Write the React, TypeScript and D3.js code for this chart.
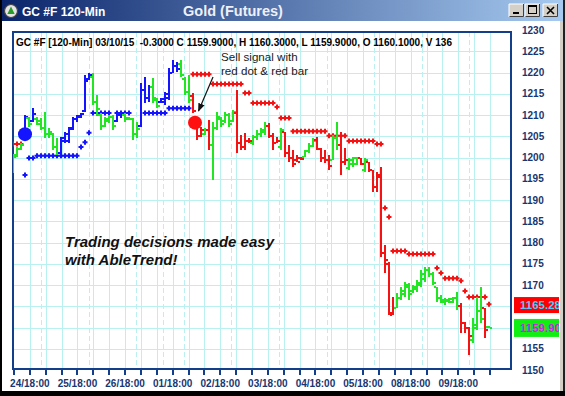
import React from "react";
import * as d3 from "d3";

// ---- data ----
const trend = [
  "GGGBGBGGGG", "GGBBBBBBBB", "GGGGGGBBGG", "GGBBBGGBBB",
  "BBGGGRRRGR", "GGGGGGRRRR", "GGGGRRRGRR", "RRRGGGRRRR",
  "GGRRGGGRGR", "RRRRRRGGGG", "GGGGGGGGGG", "GGRRRGGGRG",
].join("").split("");

const high = [
  1200.8, 1202.5, 1203.4, 1210.0, 1209.5, 1211.6, 1209.5, 1209.3, 1210.7, 1206.9,
  1205.8, 1204.6, 1204.8, 1206.0, 1207.2, 1209.5, 1210.0, 1210.5, 1219.4, 1219.9,
  1219.9, 1214.7, 1210.5, 1209.5, 1210.0, 1210.0, 1210.7, 1210.7, 1210.5, 1209.5,
  1209.3, 1208.4, 1217.5, 1218.9, 1217.1, 1218.7, 1214.0, 1214.0, 1215.4, 1221.1,
  1222.9, 1222.5, 1222.9, 1218.9, 1219.4, 1215.2, 1209.5, 1207.2, 1206.9, 1208.8,
  1208.4, 1210.7, 1209.5, 1210.7, 1210.5, 1211.2, 1215.9, 1205.3, 1205.8, 1204.6,
  1205.3, 1206.5, 1206.9, 1208.4, 1208.1, 1205.8, 1204.8, 1206.9, 1206.0, 1202.9,
  1201.8, 1200.6, 1200.1, 1201.8, 1203.4, 1204.6, 1204.8, 1202.2, 1201.8, 1200.6,
  1205.3, 1208.4, 1206.0, 1202.2, 1199.9, 1200.1, 1200.1, 1199.9, 1199.9, 1198.9,
  1197.1, 1196.6, 1197.8, 1179.4, 1175.4, 1167.2, 1168.1, 1169.5, 1170.7, 1170.5,
  1170.0, 1171.2, 1173.5, 1174.2, 1174.2, 1173.1, 1169.5, 1167.6, 1166.9, 1166.9,
  1167.2, 1168.4, 1165.8, 1161.3, 1160.1, 1162.2, 1167.2, 1169.5, 1164.6, 1160.3,
];

const low = [
  1196.4, 1200.1, 1201.8, 1204.8, 1207.2, 1208.4, 1207.6, 1206.5, 1204.6, 1204.6,
  1201.8, 1200.6, 1200.1, 1203.4, 1203.4, 1206.5, 1208.4, 1209.3, 1210.7, 1218.2,
  1212.4, 1210.0, 1206.5, 1207.2, 1208.1, 1206.5, 1208.4, 1209.3, 1208.4, 1208.8,
  1204.1, 1204.6, 1207.2, 1212.8, 1213.1, 1212.8, 1211.6, 1212.8, 1212.4, 1213.5,
  1219.9, 1220.1, 1218.9, 1214.7, 1212.8, 1210.5, 1204.1, 1204.8, 1205.3, 1201.8,
  1194.7, 1206.5, 1207.2, 1208.1, 1207.2, 1208.4, 1201.1, 1201.8, 1201.8, 1203.4,
  1202.9, 1204.1, 1204.8, 1205.3, 1204.6, 1201.8, 1203.4, 1201.8, 1200.1, 1198.9,
  1197.8, 1198.9, 1199.4, 1200.1, 1201.1, 1202.5, 1201.8, 1198.9, 1198.7, 1197.1,
  1199.4, 1201.8, 1195.9, 1198.2, 1197.1, 1197.8, 1198.2, 1198.2, 1196.6, 1196.6,
  1191.9, 1191.9, 1176.6, 1172.8, 1162.9, 1162.9, 1164.6, 1166.5, 1167.2, 1166.5,
  1168.1, 1168.4, 1169.5, 1170.7, 1171.9, 1170.0, 1166.0, 1165.8, 1165.3, 1165.8,
  1165.8, 1164.1, 1158.7, 1158.7, 1153.5, 1156.4, 1159.4, 1161.1, 1157.5, 1159.9,
];

const open = [
  1197.5, 1200.5, 1202.0, 1205.0, 1209.3, 1208.6, 1209.0, 1208.5, 1207.0, 1205.5,
  1205.5, 1202.5, 1201.0, 1204.0, 1204.0, 1207.0, 1209.0, 1209.6, 1211.0, 1218.5,
  1219.0, 1213.0, 1210.0, 1207.5, 1208.5, 1209.5, 1208.6, 1210.0, 1210.0, 1209.2,
  1209.0, 1205.5, 1207.5, 1216.0, 1214.0, 1216.5, 1213.5, 1213.0, 1213.0, 1214.0,
  1220.0, 1221.5, 1222.0, 1218.5, 1215.5, 1214.5, 1209.0, 1205.0, 1205.5, 1206.5,
  1203.0, 1207.0, 1209.0, 1208.5, 1210.0, 1208.5, 1210.5, 1203.5, 1202.5, 1204.0,
  1203.5, 1204.8, 1205.5, 1206.0, 1207.5, 1205.0, 1203.5, 1202.5, 1206.0, 1201.0,
  1200.0, 1199.5, 1199.8, 1200.2, 1201.5, 1202.8, 1204.2, 1202.0, 1200.0, 1199.5,
  1199.5, 1204.5, 1203.0, 1199.0, 1197.5, 1198.5, 1198.5, 1199.8, 1197.0, 1199.0,
  1197.0, 1193.0, 1196.0, 1177.5, 1175.0, 1163.0, 1164.5, 1167.0, 1168.0, 1169.5,
  1168.5, 1169.0, 1170.0, 1171.5, 1173.5, 1172.5, 1169.5, 1167.0, 1166.0, 1166.2,
  1166.0, 1167.0, 1165.0, 1161.0, 1160.0, 1157.0, 1160.0, 1164.0, 1164.5, 1160.1,
];

const close = [
  1200.2, 1202.0, 1203.0, 1209.5, 1208.0, 1210.2, 1208.0, 1207.0, 1205.5, 1206.0,
  1202.5, 1201.0, 1204.5, 1205.5, 1206.8, 1209.0, 1209.8, 1210.3, 1218.0, 1219.5,
  1213.0, 1211.5, 1207.5, 1209.0, 1209.5, 1207.5, 1210.2, 1210.4, 1209.0, 1209.0,
  1205.5, 1206.8, 1216.0, 1214.0, 1216.5, 1214.0, 1212.0, 1213.8, 1215.0, 1220.0,
  1221.5, 1220.8, 1219.5, 1215.5, 1213.5, 1211.0, 1205.0, 1206.5, 1206.5, 1203.0,
  1207.0, 1209.5, 1208.0, 1210.0, 1208.0, 1210.8, 1203.5, 1202.5, 1204.0, 1203.8,
  1204.8, 1205.5, 1206.5, 1207.5, 1205.0, 1203.5, 1204.0, 1206.5, 1201.0, 1200.0,
  1198.5, 1199.0, 1199.6, 1201.5, 1202.8, 1204.0, 1202.0, 1200.0, 1199.5, 1198.0,
  1204.5, 1203.0, 1199.0, 1199.5, 1199.5, 1199.8, 1200.0, 1198.5, 1199.5, 1197.0,
  1193.0, 1195.5, 1177.5, 1176.0, 1163.5, 1164.5, 1167.0, 1168.5, 1170.0, 1168.0,
  1169.5, 1170.5, 1172.5, 1173.5, 1172.5, 1170.5, 1167.0, 1166.5, 1166.5, 1166.6,
  1167.0, 1165.0, 1161.0, 1160.0, 1158.0, 1160.5, 1164.0, 1162.0, 1159.5, 1159.9,
];

// trailing stop runs: [fromBar, toBar, price]
const blueStopRuns = [
  [3, 3, 1195.9], [4, 5, 1199.9], [6, 16, 1200.4], [17, 17, 1202.5], [18, 18, 1203.6],
  [19, 19, 1205.8], [20, 24, 1210.5], [26, 29, 1210.5], [33, 38, 1210.5], [39, 44, 1211.6],
];
const redStopRuns = [
  [0, 2, 1203.2], [45, 49, 1219.6], [50, 57, 1217.3], [58, 59, 1215.2], [60, 65, 1212.8],
  [66, 66, 1211.9], [67, 69, 1209.3], [70, 78, 1206.2], [79, 83, 1205.1], [84, 90, 1203.9],
  [91, 92, 1203.2], [93, 93, 1188.1], [94, 94, 1186.0], [95, 98, 1178.0], [99, 105, 1177.3],
  [106, 106, 1174.0], [107, 107, 1172.8], [108, 111, 1171.6], [112, 112, 1171.0],
  [113, 113, 1168.6], [114, 118, 1167.2], [119, 119, 1165.5],
];

const buySignal = { bar: 3, price: 1205.5 };
const sellSignal = { bar: 45, price: 1208.2 };

const gridPrices = [1155, 1160, 1165, 1170, 1175, 1180, 1185, 1190, 1195, 1200, 1205, 1210, 1215, 1220, 1225];
// labels visible on the right axis (1160 / 1165 are covered by the last-price boxes)
const priceLabels = [1150, 1155, 1170, 1175, 1180, 1185, 1190, 1195, 1200, 1205, 1210, 1215, 1220, 1225, 1230];
const dateLabels = ["24/18:00", "25/18:00", "26/18:00", "01/18:00", "02/18:00", "03/18:00", "04/18:00", "05/18:00", "08/18:00", "09/18:00"];
const dateLabelTicks = [1, 4, 7, 10, 13, 16, 19, 22, 25, 28];
const sessionBreaks = [1.7, 4.7, 7.7, 9.4, 10.7, 13.7, 16.7, 19.7, 22.7, 25.7, 28.7];

const lastHigh = 1165.28;
const lastClose = 1159.9;

const COL: Record<string, string> = { B: "#1414ff", G: "#22e622", R: "#f41212" };
const FRAME = "#123e8a";
const LABEL = "#183670";
const GRID = "#b9f1f1";
const FONT = "Arial, 'Liberation Sans', sans-serif";

export default function App() {
  const y = d3.scaleLinear().domain([1150, 1230]).range([370, 30]);
  const xb = d3.scaleLinear().domain([0, 119]).range([13, 489]);
  const xt = d3.scaleLinear().domain([0, 30]).range([14, 490]);

  const stopMarks = (runs: number[][], color: string, key: string) =>
    runs.flatMap(([a, b, p]) =>
      d3.range(a, b + 1).map((i) => {
        const cx = Math.round(xb(i));
        const cy = y(p);
        return (
          <path
            key={key + i}
            fill={color}
            d={`M${cx - 2.5},${cy - 1}h5v2h-5z M${cx - 1},${cy - 2.5}h2v5h-2z`}
          />
        );
      })
    );

  const btn = (x: number, kind: string) => (
    <g key={kind}>
      <rect x={x} y={4} width={15} height={13} fill="#d4d0c8" />
      <path d={`M${x},${17}V4H${x + 15}`} stroke="#ffffff" fill="none" strokeWidth={1} />
      <path d={`M${x + 0.5},${16.5}H${x + 14.5}V4`} stroke="#404040" fill="none" strokeWidth={1} />
      {kind === "min" && <rect x={x + 4} y={12} width={6} height={2} fill="#000" />}
      {kind === "max" && (
        <g>
          <rect x={x + 3.5} y={5.5} width={8} height={8} fill="none" stroke="#000" strokeWidth={1} />
          <rect x={x + 3} y={5} width={9} height={2} fill="#000" />
        </g>
      )}
      {kind === "close" && (
        <path d={`M${x + 4},${7}L${x + 11},${14}M${x + 11},${7}L${x + 4},${14}`} stroke="#000" strokeWidth={1.6} />
      )}
    </g>
  );

  return (
    <svg
      width={565}
      height={396}
      viewBox="0 0 565 396"
      style={{ position: "absolute", left: 0, top: 0, display: "block" }}
      fontFamily={FONT}
    >
      <defs>
        <linearGradient id="tb" x1="0" x2="1" y1="0" y2="0">
          <stop offset="0" stopColor="#0a246a" />
          <stop offset="1" stopColor="#a6caf0" />
        </linearGradient>
        <marker id="ah" viewBox="0 0 10 10" refX="9" refY="5" markerWidth="7" markerHeight="7" orient="auto">
          <path d="M0,1 L10,5 L0,9 z" fill="#111" />
        </marker>
        <clipPath id="plot">
          <rect x={13} y={32} width={498} height={337} />
        </clipPath>
        <clipPath id="boxclip">
          <rect x={514} y={290} width={45} height={50} />
        </clipPath>
      </defs>

      {/* window */}
      <rect x={0} y={0} width={565} height={396} fill="#ffffff" />
      <rect x={0} y={0} width={565} height={21} fill="url(#tb)" />
      <rect x={0} y={0} width={2} height={396} fill="#000" />
      <rect x={560} y={21} width={3} height={375} fill="#d4d0c8" />
      <rect x={563} y={0} width={2} height={396} fill="#222" />
      <rect x={0} y={391} width={565} height={5} fill="#000" />

      {/* title */}
      <circle cx={11} cy={11} r={6.5} fill="#e4e4e4" stroke="#444" strokeWidth={1.2} />
      <path d="M11,6.5 L7.3,14 L14.7,14 Z" fill="#2a9a2a" />
      <text x={22} y={15.5} fontSize={12} fontWeight="bold" fill="#ffffff">GC #F 120-Min</text>
      <text x={233} y={16} fontSize={14.5} fontWeight="bold" fill="#eef0f6" textAnchor="middle">Gold (Futures)</text>
      {btn(509, "min")}
      {btn(525, "max")}
      {btn(543, "close")}

      {/* grid */}
      <g stroke={GRID} strokeWidth={1} shapeRendering="crispEdges">
        {gridPrices.map((p) => (
          <line key={"h" + p} x1={13} x2={511} y1={Math.round(y(p)) + 0.5} y2={Math.round(y(p)) + 0.5} />
        ))}
        {d3.range(1, 31).map((k) => (
          <line key={"v" + k} x1={Math.round(xt(k)) + 0.5} x2={Math.round(xt(k)) + 0.5} y1={32} y2={369} />
        ))}
        {sessionBreaks.map((k) => (
          <line key={"s" + k} x1={Math.round(xt(k)) + 0.5} x2={Math.round(xt(k)) + 0.5} y1={32} y2={369} strokeDasharray="5,3" />
        ))}
      </g>

      {/* frame */}
      <rect x={13} y={32} width={498} height={337} fill="none" stroke={FRAME} strokeWidth={2} />
      <g fill={FRAME}>
        {d3.range(0, 31).map((k) => (
          <rect key={"t" + k} x={Math.round(xt(k)) - 1} y={370} width={2} height={5} />
        ))}
      </g>

      {/* axis labels */}
      <g fontSize={10} fontWeight="bold" fill={LABEL}>
        {priceLabels.map((p) => (
          <text key={"pl" + p} x={522} y={y(p) + 3.6}>{p}</text>
        ))}
        {dateLabels.map((d, i) => (
          <text key={"dl" + d} x={xt(dateLabelTicks[i])} y={386.7} textAnchor="middle">{d}</text>
        ))}
      </g>

      {/* last price boxes */}
      <g clipPath="url(#boxclip)">
        <rect x={514} y={y(lastHigh) - 8} width={45} height={16} fill="#ff0000" />
        <text x={520} y={y(lastHigh) + 4.2} fontSize={11.5} fontWeight="bold" fill="#44ccff">{lastHigh.toFixed(2)}</text>
        <rect x={514} y={y(lastClose) - 9} width={45} height={18} fill="#11ee11" />
        <text x={520} y={y(lastClose) + 4.2} fontSize={11.5} fontWeight="bold" fill="#d020f0">{lastClose.toFixed(2)}</text>
      </g>

      {/* plot content */}
      <g clipPath="url(#plot)">
        {stopMarks(blueStopRuns, COL.B, "bs")}
        {stopMarks(redStopRuns, COL.R, "rs")}
        <g shapeRendering="crispEdges">
          {high.map((h, i) => {
            const cx = Math.round(xb(i));
            const yh = Math.round(y(h));
            const yl = Math.round(y(low[i]));
            const yo = Math.round(y(open[i]));
            const yc = Math.round(y(close[i]));
            return (
              <g key={"b" + i} fill={COL[trend[i]]}>
                <rect x={cx - 1} y={yh} width={2} height={Math.max(2, yl - yh)} />
                <rect x={cx - 3} y={yo - 1} width={2} height={2} />
                <rect x={cx + 1} y={yc - 1} width={2} height={2} />
              </g>
            );
          })}
        </g>
        <circle cx={xb(buySignal.bar)} cy={y(buySignal.price)} r={7} fill={COL.B} />
        <circle cx={xb(sellSignal.bar) + 2} cy={y(sellSignal.price)} r={7} fill="#ff1010" />
      </g>

      {/* info text */}
      <text x={16} y={46} fontSize={10} fontWeight="bold" fill="#000" textLength={436} lengthAdjust="spacingAndGlyphs" style={{ whiteSpace: "pre" }}>
        {"GC #F [120-Min] 03/10/15  -0.3000 C 1159.9000, H 1160.3000, L 1159.9000, O 1160.1000, V 136"}
      </text>

      {/* annotation */}
      <text x={221} y={61} fontSize={11.6} fill="#1a1a1a">Sell signal with</text>
      <text x={221} y={75} fontSize={11.6} fill="#1a1a1a">red dot &amp; red bar</text>
      <line x1={213} y1={77} x2={198.5} y2={111} stroke="#111" strokeWidth={1.2} markerEnd="url(#ah)" />

      <text x={65} y={247} fontSize={15} fontWeight="bold" fontStyle="italic" fill="#111">Trading decisions made easy</text>
      <text x={65} y={265} fontSize={15} fontWeight="bold" fontStyle="italic" fill="#111">with AbleTrend!</text>
    </svg>
  );
}
